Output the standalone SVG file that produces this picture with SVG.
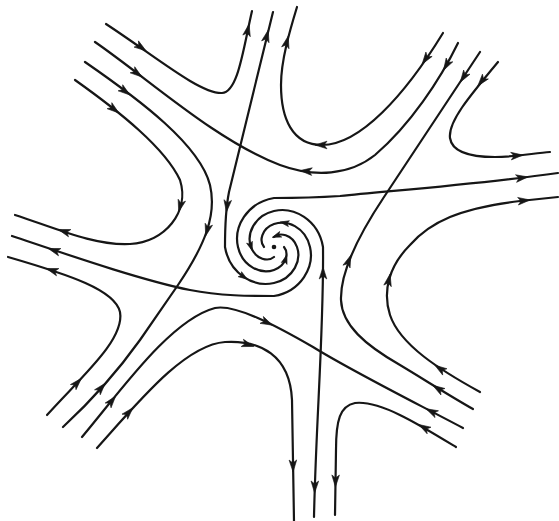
<svg xmlns="http://www.w3.org/2000/svg" width="559" height="521" viewBox="0 0 559 521">
<style>
.t{fill:none;stroke:#161616;stroke-width:2.2;stroke-linecap:round;stroke-linejoin:round}
.a{fill:#161616;stroke:#161616;stroke-width:0.6}
</style>
<defs>
<path id="ah" d="M5,0 L-7,-3.8 L-4,0 L-7,3.8 Z"/>
<path id="as" d="M4,0 L-5,-3 L-3,0 L-5,3 Z"/>
</defs>
<rect width="559" height="521" fill="#fff"/>
<g id="trajectories">
<path id="A" class="t" d="M106,24 C155,56 200,94 222,93 C238,92 243,50 252,11"/>
<path id="B" class="t" d="M95,42 C150,80 215,140 280,165 C315,178 350,175 375,155 C410,125 440,80 458,43"/>
<path id="D" class="t" d="M85,62 C140,100 200,145 210,185 C217,215 205,245 178,285 L140,340 C115,375 90,402 63,427"/>
<path id="E" class="t" d="M75,80 C120,112 165,148 180,180 C190,212 165,242 130,244 C95,246 55,228 15,215"/>
<path id="T3" class="t" d="M443,33 C405,95 360,145 322,145 C292,145 281,118 281,85 C281,60 290,30 297,7"/>
<path id="L2" class="t" d="M480,52 L384,197 C362,230 340,270 341,300 C342,325 365,345 400,365 C425,380 450,396 473,409"/>
<path id="R1" class="t" d="M498,62 C468,98 448,122 450,138 C452,152 470,157 495,157 C515,157 535,153 550,152"/>
<path id="L3" class="t" d="M480,392 C440,370 400,345 390,315 C382,290 390,265 410,245 C430,222 460,208 520,201 L558,197"/>
<path id="L4" class="t" d="M82,437 C120,392 170,320 215,308 C235,304 275,325 313,347 C350,370 410,400 463,428"/>
<path id="B3" class="t" d="M456,447 C420,425 380,400 355,403 C340,406 336,420 336,450 L335,515"/>
<path id="B1" class="t" d="M97,448 C140,400 185,345 225,342 C260,340 290,355 292,400 L294,521"/>
<path id="L5" class="t" d="M47,415 C80,378 125,340 120,312 C115,290 70,275 8,257"/>
</g>
<g id="spiral">
<path id="arm1" class="t" d="M273,12 L229,192 Q225,212 225,247 C227.17,259.83 234.55,270.71 243.95,277.05 C253.35,283.39 264.58,285.17 274,283 C283.42,280.83 290.93,274.85 294.86,267.86 C298.79,260.87 299.17,253.02 297,247 C294.83,240.98 290.26,236.85 285.67,235.33 C281.08,233.81 276.62,234.83 274,237"/>
<path id="arm2" class="t" d="M12,236 C60,252 140,280 190,290 C220,296 250,296 274,296 C286.83,293.83 297.71,286.45 304.05,277.05 C310.39,267.65 312.17,256.42 310,247 C307.83,237.58 301.85,230.07 294.86,226.14 C287.87,222.21 280.02,221.83 274,224 C267.98,226.17 263.85,230.74 262.33,235.33 C260.81,239.92 261.83,244.38 264,247"/>
<path id="arm3" class="t" d="M314,517 C316,420 324,330 323,247 C320.83,234.17 313.45,223.29 304.05,216.95 C294.65,210.61 283.42,208.83 274,211 C264.58,213.17 257.07,219.15 253.14,226.14 C249.21,233.13 248.83,240.98 251,247 C253.17,253.02 257.74,257.15 262.33,258.67 C266.92,260.19 271.38,259.17 274,257"/>
<path id="arm4" class="t" d="M558,173 C480,184 400,190 340,196 C310,198 290,198 274,198 C261.17,200.17 250.29,207.55 243.95,216.95 C237.61,226.35 235.83,237.58 238,247 C240.17,256.42 246.15,263.93 253.14,267.86 C260.13,271.79 267.98,272.17 274,270 C280.02,267.83 284.15,263.26 285.67,258.67 C287.19,254.08 286.17,249.62 284,247"/>
<circle cx="274" cy="247" r="2.3" fill="#161616"/>
</g>
<g id="arrows" class="a">
<use href="#ah" transform="translate(142,48) rotate(35)"/>
<use href="#ah" transform="translate(248,29) rotate(-78)"/>
<use href="#ah" transform="translate(138,74) rotate(37)"/>
<use href="#ah" transform="translate(305,171) rotate(185)"/>
<use href="#ah" transform="translate(446,66) rotate(120)"/>
<use href="#ah" transform="translate(126,92) rotate(37)"/>
<use href="#ah" transform="translate(207,231) rotate(105)"/>
<use href="#ah" transform="translate(102,387) rotate(-49)"/>
<use href="#ah" transform="translate(115,110) rotate(38)"/>
<use href="#ah" transform="translate(180,207) rotate(105)"/>
<use href="#ah" transform="translate(63,231) rotate(198)"/>
<use href="#ah" transform="translate(267,35) rotate(-76)"/>
<use href="#ah" transform="translate(227,207) rotate(96)"/>
<use href="#ah" transform="translate(425,60) rotate(125)"/>
<use href="#ah" transform="translate(320,145) rotate(180)"/>
<use href="#ah" transform="translate(287,41) rotate(-76)"/>
<use href="#ah" transform="translate(463,78) rotate(123)"/>
<use href="#ah" transform="translate(349,260) rotate(-69)"/>
<use href="#ah" transform="translate(437,388) rotate(212)"/>
<use href="#ah" transform="translate(481,82) rotate(129)"/>
<use href="#ah" transform="translate(518,155.5) rotate(-5)"/>
<use href="#ah" transform="translate(523,177.6) rotate(-8)"/>
<use href="#ah" transform="translate(439,368) rotate(214)"/>
<use href="#ah" transform="translate(389,279) rotate(-78)"/>
<use href="#ah" transform="translate(525,200.5) rotate(-6)"/>
<use href="#ah" transform="translate(112.5,400) rotate(-51)"/>
<use href="#ah" transform="translate(268,323) rotate(26)"/>
<use href="#ah" transform="translate(430.5,411) rotate(207)"/>
<use href="#ah" transform="translate(423,427) rotate(210)"/>
<use href="#ah" transform="translate(335.5,482) rotate(91)"/>
<use href="#ah" transform="translate(323,272) rotate(-90)"/>
<use href="#ah" transform="translate(314.7,488) rotate(91)"/>
<use href="#ah" transform="translate(129.5,411.5) rotate(-48)"/>
<use href="#ah" transform="translate(249,345) rotate(17)"/>
<use href="#ah" transform="translate(293,467) rotate(89)"/>
<use href="#ah" transform="translate(78,382) rotate(-47)"/>
<use href="#ah" transform="translate(51,270) rotate(198)"/>
<use href="#ah" transform="translate(53,250) rotate(198)"/>
<use href="#as" transform="translate(244,277) rotate(34)"/>
<use href="#as" transform="translate(251,247) rotate(72)"/>
<use href="#as" transform="translate(284,222.8) rotate(190)"/>
<use href="#as" transform="translate(285.7,258.7) rotate(-72)"/>
<use href="#as" transform="translate(276,236) rotate(160)"/>
</g>
</svg>
